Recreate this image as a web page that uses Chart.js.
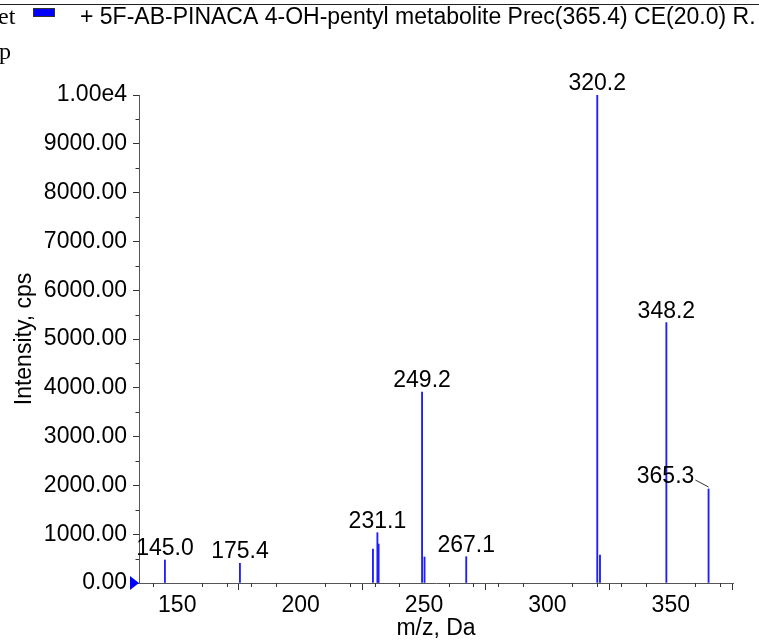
<!DOCTYPE html>
<html>
<head>
<meta charset="utf-8">
<script src="https://cdn.jsdelivr.net/npm/chart.js@4.4.1/dist/chart.umd.min.js"></script>
<style>
  html, body { margin: 0; padding: 0; background: #fff; }
  canvas { display: block; }
</style>
</head>
<body>
<canvas id="spec" width="759" height="641"></canvas>
<script>
// peaks (m/z, intensity in cps)
const peakMz = [145.0, 175.4, 229.3, 231.1, 231.6, 249.2, 250.2, 267.1, 320.2, 321.3, 348.2, 365.3];
const peakIntensity = [471, 404, 697, 1031, 799, 3914, 533, 539, 10000, 574, 5334, 1926];
// peaks that get an m/z label
const labelledMz = [145.0, 175.4, 231.1, 249.2, 267.1, 320.2, 348.2, 365.3];

const xTicks = [150, 200, 250, 300, 350];
const yTicks = [0, 1000, 2000, 3000, 4000, 5000, 6000, 7000, 8000, 9000, 10000];
const titleText = "+ 5F-AB-PINACA 4-OH-pentyl metabolite Prec(365.4) CE(20.0) R.";

const FONT = 'Arial, "Liberation Sans", sans-serif';
const BLUE = 'rgb(30,30,255)';

Chart.defaults.font.family = FONT;
Chart.defaults.font.size = 23;
Chart.defaults.color = '#000';

// header, minor ticks, the start marker and the peak labels
const decor = {
    id: 'decor',
    beforeDraw(chart){
        const ctx = chart.ctx;
        ctx.save();
        ctx.fillStyle = '#fff';
        ctx.fillRect(0, 0, chart.width, chart.height);
        // rule across the top
        ctx.strokeStyle = '#222';
        ctx.lineWidth = 1;
        ctx.beginPath();
        ctx.moveTo(0, 4.5);
        ctx.lineTo(chart.width, 4.5);
        ctx.stroke();
        // clipped text from the pane on the left
        ctx.fillStyle = '#000';
        ctx.font = '24px "Liberation Serif", "DejaVu Serif", serif';
        ctx.textBaseline = 'alphabetic';
        ctx.fillText('et', -2, 24);
        ctx.fillText('p', -1, 59);
        // legend swatch + title
        ctx.fillStyle = '#0000ff';
        ctx.fillRect(33.5, 8.5, 21, 8);
        ctx.strokeStyle = '#333';
        ctx.strokeRect(33.5, 8.5, 21, 8);
        ctx.fillStyle = '#000';
        ctx.font = '23px ' + FONT;
        ctx.fillText(titleText, 80, 24);
        ctx.restore();
    },
    afterDraw(chart){
        const ctx = chart.ctx;
        const xs = chart.scales.x, ys = chart.scales.y;
        ctx.save();
        ctx.strokeStyle = '#333';
        ctx.lineWidth = 1;
        ctx.beginPath();
        for(let v = 140; v <= xs.max; v += 10){
            if(v % 50 === 0) continue;
            const px = Math.round(xs.getPixelForValue(v)) + 0.5;
            ctx.moveTo(px, ys.bottom);
            ctx.lineTo(px, ys.bottom + 4);
        }
        for(let v = 500; v < ys.max; v += 1000){
            const py = Math.round(ys.getPixelForValue(v)) + 0.5;
            ctx.moveTo(xs.left - 3.5, py);
            ctx.lineTo(xs.left, py);
        }
        ctx.stroke();
        // blue marker at the origin
        const y0 = ys.getPixelForValue(0);
        ctx.fillStyle = '#0000ff';
        ctx.beginPath();
        ctx.moveTo(xs.left - 9, y0 - 7);
        ctx.lineTo(xs.left, y0);
        ctx.lineTo(xs.left - 9, y0 + 7);
        ctx.closePath();
        ctx.fill();
        // peak labels
        ctx.font = '23px ' + FONT;
        ctx.fillStyle = '#000';
        ctx.textAlign = 'center';
        ctx.textBaseline = 'alphabetic';
        const shift = chart.options.plugins.decor.shift;
        labelledMz.forEach(mz => {
            const i = peakMz.indexOf(mz);
            const px = xs.getPixelForValue(mz);
            const py = ys.getPixelForValue(peakIntensity[i]);
            const txt = mz.toFixed(1);
            const dx = shift[txt] || 0;
            const gap = dx ? 6 : 5;
            ctx.fillText(txt, px + dx, py - gap);
            if(dx){
                const w = ctx.measureText(txt).width;
                ctx.strokeStyle = '#333';
                ctx.beginPath();
                ctx.moveTo(px + dx + w / 2 + 1, py - gap - 3);
                ctx.lineTo(px, py - 2);
                ctx.stroke();
            }
        });
        ctx.restore();
    }
};

new Chart(document.getElementById('spec'), {
    type: 'bar',
    data: {
        datasets: [{
            data: peakMz.map((mz, i) => ({x: mz, y: peakIntensity[i]})),
            backgroundColor: BLUE,
            borderWidth: 0,
            barThickness: 1.2
        }]
    },
    options: {
        responsive: false,
        animation: false,
        layout: {padding: {top: 95, right: 26, left: 0, bottom: 0}},
        plugins: {
            legend: {display: false},
            tooltip: {enabled: false},
            decor: {shift: {'365.3': -43}}
        },
        scales: {
            x: {
                type: 'linear',
                min: 134.5,
                max: 375.2,
                offset: false,
                afterBuildTicks: s => { s.ticks = xTicks.map(v => ({value: v})); },
                afterFit: s => { s.height = 58; },
                grid: {drawOnChartArea: false, tickLength: 7, tickColor: '#333'},
                border: {color: '#555', width: 1},
                ticks: {padding: 2, maxRotation: 0, autoSkip: false, color: '#000'},
                title: {display: true, text: 'm/z, Da', color: '#000', padding: {top: 0, bottom: -1}}
            },
            y: {
                min: 0,
                max: 10000,
                afterBuildTicks: s => { s.ticks = yTicks.map(v => ({value: v})); },
                afterFit: s => { s.width = 139; },
                grid: {drawOnChartArea: false, tickLength: 6, tickColor: '#333'},
                border: {color: '#555', width: 1},
                ticks: {
                    padding: 6,
                    autoSkip: false,
                    color: '#000',
                    callback: v => v === 10000 ? '1.00e4' : v.toFixed(2)
                },
                title: {display: true, text: 'Intensity, cps', color: '#000', padding: {top: 11, bottom: 0}}
            }
        }
    },
    plugins: [decor]
});
</script>
</body>
</html>
